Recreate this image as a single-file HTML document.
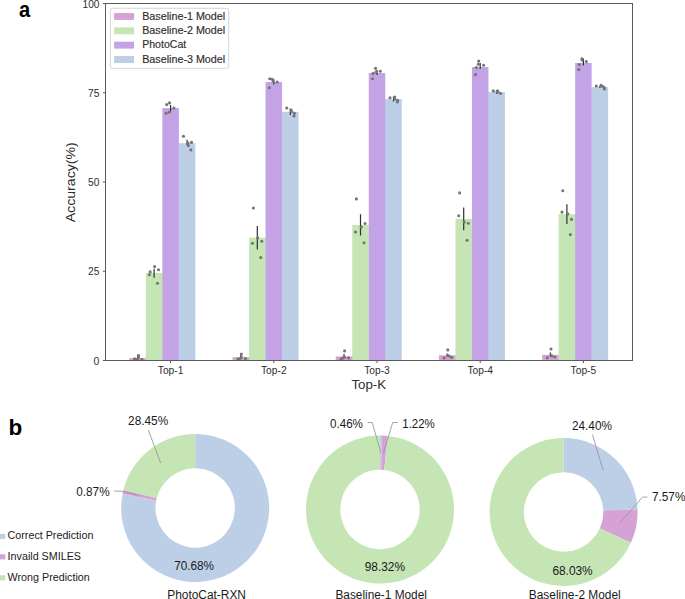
<!DOCTYPE html>
<html><head><meta charset="utf-8"><title>PhotoCat accuracy</title>
<style>
html,body{margin:0;padding:0;background:#fff;}
body{width:685px;height:599px;overflow:hidden;}
svg{display:block;font-family:"Liberation Sans", sans-serif;}
</style></head><body>
<svg width="685" height="599" viewBox="0 0 685 599">
<rect width="685" height="599" fill="#fff"/>
<rect x="129.35" y="358.00" width="16.50" height="2.50" fill="#D6A2D6"/>
<rect x="145.65" y="358.00" width="0.9" height="2.50" fill="#D6A2D6"/>
<rect x="145.85" y="273.00" width="16.50" height="87.50" fill="#C5E5B5"/>
<rect x="162.15" y="273.00" width="0.9" height="87.50" fill="#C5E5B5"/>
<rect x="162.35" y="108.10" width="16.50" height="252.40" fill="#C3A2E6"/>
<rect x="178.65" y="143.20" width="0.9" height="217.30" fill="#C3A2E6"/>
<rect x="178.85" y="143.20" width="16.50" height="217.30" fill="#BDCFE6"/>
<rect x="232.55" y="357.20" width="16.50" height="3.30" fill="#D6A2D6"/>
<rect x="248.85" y="357.20" width="0.9" height="3.30" fill="#D6A2D6"/>
<rect x="249.05" y="237.70" width="16.50" height="122.80" fill="#C5E5B5"/>
<rect x="265.35" y="237.70" width="0.9" height="122.80" fill="#C5E5B5"/>
<rect x="265.55" y="82.00" width="16.50" height="278.50" fill="#C3A2E6"/>
<rect x="281.85" y="111.80" width="0.9" height="248.70" fill="#C3A2E6"/>
<rect x="282.05" y="111.80" width="16.50" height="248.70" fill="#BDCFE6"/>
<rect x="335.75" y="356.50" width="16.50" height="4.00" fill="#D6A2D6"/>
<rect x="352.05" y="356.50" width="0.9" height="4.00" fill="#D6A2D6"/>
<rect x="352.25" y="225.00" width="16.50" height="135.50" fill="#C5E5B5"/>
<rect x="368.55" y="225.00" width="0.9" height="135.50" fill="#C5E5B5"/>
<rect x="368.75" y="73.00" width="16.50" height="287.50" fill="#C3A2E6"/>
<rect x="385.05" y="99.10" width="0.9" height="261.40" fill="#C3A2E6"/>
<rect x="385.25" y="99.10" width="16.50" height="261.40" fill="#BDCFE6"/>
<rect x="438.95" y="355.30" width="16.50" height="5.20" fill="#D6A2D6"/>
<rect x="455.25" y="355.30" width="0.9" height="5.20" fill="#D6A2D6"/>
<rect x="455.45" y="218.90" width="16.50" height="141.60" fill="#C5E5B5"/>
<rect x="471.75" y="218.90" width="0.9" height="141.60" fill="#C5E5B5"/>
<rect x="471.95" y="67.00" width="16.50" height="293.50" fill="#C3A2E6"/>
<rect x="488.25" y="92.10" width="0.9" height="268.40" fill="#C3A2E6"/>
<rect x="488.45" y="92.10" width="16.50" height="268.40" fill="#BDCFE6"/>
<rect x="542.15" y="354.90" width="16.50" height="5.60" fill="#D6A2D6"/>
<rect x="558.45" y="354.90" width="0.9" height="5.60" fill="#D6A2D6"/>
<rect x="558.65" y="214.10" width="16.50" height="146.40" fill="#C5E5B5"/>
<rect x="574.95" y="214.10" width="0.9" height="146.40" fill="#C5E5B5"/>
<rect x="575.15" y="63.00" width="16.50" height="297.50" fill="#C3A2E6"/>
<rect x="591.45" y="87.10" width="0.9" height="273.40" fill="#C3A2E6"/>
<rect x="591.65" y="87.10" width="16.50" height="273.40" fill="#BDCFE6"/>
<line x1="137.60" y1="354.7" x2="137.60" y2="360" stroke="#303030" stroke-width="1.2"/>
<line x1="154.10" y1="268.8" x2="154.10" y2="277.8" stroke="#303030" stroke-width="1.2"/>
<line x1="170.60" y1="105" x2="170.60" y2="111.6" stroke="#303030" stroke-width="1.2"/>
<line x1="187.10" y1="139.7" x2="187.10" y2="145" stroke="#303030" stroke-width="1.2"/>
<circle cx="134.7" cy="358.9" r="1.55" fill="#747474"/>
<circle cx="138.5" cy="355.5" r="1.55" fill="#747474"/>
<circle cx="138.5" cy="357.5" r="1.55" fill="#747474"/>
<circle cx="142" cy="359.6" r="1.55" fill="#747474"/>
<circle cx="137" cy="359.5" r="1.55" fill="#747474"/>
<circle cx="154.6" cy="266.6" r="1.55" fill="#747474"/>
<circle cx="158.5" cy="269.7" r="1.55" fill="#747474"/>
<circle cx="150.2" cy="271.9" r="1.55" fill="#747474"/>
<circle cx="149.3" cy="274.8" r="1.55" fill="#747474"/>
<circle cx="157.5" cy="283.3" r="1.55" fill="#747474"/>
<circle cx="166.7" cy="104.6" r="1.55" fill="#747474"/>
<circle cx="169.5" cy="102.9" r="1.55" fill="#747474"/>
<circle cx="173.9" cy="108.1" r="1.55" fill="#747474"/>
<circle cx="166" cy="113.2" r="1.55" fill="#747474"/>
<circle cx="169" cy="112.2" r="1.55" fill="#747474"/>
<circle cx="183.5" cy="136.2" r="1.55" fill="#747474"/>
<circle cx="191.5" cy="142.4" r="1.55" fill="#747474"/>
<circle cx="188.3" cy="145.6" r="1.55" fill="#747474"/>
<circle cx="190.9" cy="149.9" r="1.55" fill="#747474"/>
<circle cx="188" cy="143" r="1.55" fill="#747474"/>
<line x1="240.80" y1="354.5" x2="240.80" y2="358" stroke="#303030" stroke-width="1.2"/>
<line x1="257.30" y1="226" x2="257.30" y2="249.4" stroke="#303030" stroke-width="1.2"/>
<line x1="273.80" y1="79" x2="273.80" y2="84.5" stroke="#303030" stroke-width="1.2"/>
<line x1="290.30" y1="108.5" x2="290.30" y2="115" stroke="#303030" stroke-width="1.2"/>
<circle cx="241.4" cy="354.1" r="1.55" fill="#747474"/>
<circle cx="241.4" cy="357.3" r="1.55" fill="#747474"/>
<circle cx="237.9" cy="359" r="1.55" fill="#747474"/>
<circle cx="245.4" cy="358.6" r="1.55" fill="#747474"/>
<circle cx="240" cy="358.5" r="1.55" fill="#747474"/>
<circle cx="253.4" cy="208" r="1.55" fill="#747474"/>
<circle cx="257.7" cy="237.8" r="1.55" fill="#747474"/>
<circle cx="252.5" cy="243.3" r="1.55" fill="#747474"/>
<circle cx="261.8" cy="241.2" r="1.55" fill="#747474"/>
<circle cx="260.8" cy="257.5" r="1.55" fill="#747474"/>
<circle cx="269.8" cy="78.7" r="1.55" fill="#747474"/>
<circle cx="272.2" cy="79.3" r="1.55" fill="#747474"/>
<circle cx="273.1" cy="81" r="1.55" fill="#747474"/>
<circle cx="277.2" cy="82" r="1.55" fill="#747474"/>
<circle cx="269.2" cy="87.7" r="1.55" fill="#747474"/>
<circle cx="286.8" cy="108" r="1.55" fill="#747474"/>
<circle cx="291.1" cy="110.1" r="1.55" fill="#747474"/>
<circle cx="291.5" cy="111.5" r="1.55" fill="#747474"/>
<circle cx="294.4" cy="113.2" r="1.55" fill="#747474"/>
<circle cx="294" cy="115.9" r="1.55" fill="#747474"/>
<line x1="344.00" y1="354" x2="344.00" y2="358" stroke="#303030" stroke-width="1.2"/>
<line x1="360.50" y1="214.2" x2="360.50" y2="235.6" stroke="#303030" stroke-width="1.2"/>
<line x1="377.00" y1="70" x2="377.00" y2="75" stroke="#303030" stroke-width="1.2"/>
<line x1="393.50" y1="96.5" x2="393.50" y2="101.5" stroke="#303030" stroke-width="1.2"/>
<circle cx="344.6" cy="350.9" r="1.55" fill="#747474"/>
<circle cx="344.6" cy="357" r="1.55" fill="#747474"/>
<circle cx="348.5" cy="357.9" r="1.55" fill="#747474"/>
<circle cx="341" cy="359" r="1.55" fill="#747474"/>
<circle cx="343" cy="358" r="1.55" fill="#747474"/>
<circle cx="356.4" cy="198.9" r="1.55" fill="#747474"/>
<circle cx="365.1" cy="223.5" r="1.55" fill="#747474"/>
<circle cx="361.3" cy="227.1" r="1.55" fill="#747474"/>
<circle cx="355.5" cy="232" r="1.55" fill="#747474"/>
<circle cx="364" cy="242.8" r="1.55" fill="#747474"/>
<circle cx="375.6" cy="68.4" r="1.55" fill="#747474"/>
<circle cx="373.1" cy="73.4" r="1.55" fill="#747474"/>
<circle cx="376" cy="72" r="1.55" fill="#747474"/>
<circle cx="380.3" cy="71.3" r="1.55" fill="#747474"/>
<circle cx="372.5" cy="78.7" r="1.55" fill="#747474"/>
<circle cx="390" cy="97.7" r="1.55" fill="#747474"/>
<circle cx="394.7" cy="97.1" r="1.55" fill="#747474"/>
<circle cx="394.7" cy="98.9" r="1.55" fill="#747474"/>
<circle cx="397.6" cy="100.3" r="1.55" fill="#747474"/>
<circle cx="397.4" cy="102" r="1.55" fill="#747474"/>
<line x1="447.20" y1="353.5" x2="447.20" y2="356.5" stroke="#303030" stroke-width="1.2"/>
<line x1="463.70" y1="207.5" x2="463.70" y2="230.3" stroke="#303030" stroke-width="1.2"/>
<line x1="480.20" y1="63" x2="480.20" y2="69" stroke="#303030" stroke-width="1.2"/>
<line x1="496.70" y1="90" x2="496.70" y2="94" stroke="#303030" stroke-width="1.2"/>
<circle cx="447.8" cy="349.9" r="1.55" fill="#747474"/>
<circle cx="447.8" cy="355.5" r="1.55" fill="#747474"/>
<circle cx="444.1" cy="358" r="1.55" fill="#747474"/>
<circle cx="451.6" cy="357.4" r="1.55" fill="#747474"/>
<circle cx="449" cy="356" r="1.55" fill="#747474"/>
<circle cx="459.6" cy="192.9" r="1.55" fill="#747474"/>
<circle cx="458.7" cy="215.7" r="1.55" fill="#747474"/>
<circle cx="464.2" cy="222.1" r="1.55" fill="#747474"/>
<circle cx="468.3" cy="223.3" r="1.55" fill="#747474"/>
<circle cx="467.1" cy="240.2" r="1.55" fill="#747474"/>
<circle cx="478.7" cy="61.1" r="1.55" fill="#747474"/>
<circle cx="478.3" cy="64.3" r="1.55" fill="#747474"/>
<circle cx="476.3" cy="67.5" r="1.55" fill="#747474"/>
<circle cx="483.6" cy="65.2" r="1.55" fill="#747474"/>
<circle cx="475.5" cy="74.6" r="1.55" fill="#747474"/>
<circle cx="493.3" cy="90.9" r="1.55" fill="#747474"/>
<circle cx="497.4" cy="90.9" r="1.55" fill="#747474"/>
<circle cx="498" cy="91.9" r="1.55" fill="#747474"/>
<circle cx="500.6" cy="93.5" r="1.55" fill="#747474"/>
<circle cx="497" cy="92" r="1.55" fill="#747474"/>
<line x1="550.40" y1="352.5" x2="550.40" y2="356.5" stroke="#303030" stroke-width="1.2"/>
<line x1="566.90" y1="204.2" x2="566.90" y2="224" stroke="#303030" stroke-width="1.2"/>
<line x1="583.40" y1="58.5" x2="583.40" y2="65.5" stroke="#303030" stroke-width="1.2"/>
<line x1="599.90" y1="86" x2="599.90" y2="88" stroke="#303030" stroke-width="1.2"/>
<circle cx="551" cy="349" r="1.55" fill="#747474"/>
<circle cx="551" cy="355.5" r="1.55" fill="#747474"/>
<circle cx="547.3" cy="357.8" r="1.55" fill="#747474"/>
<circle cx="554.8" cy="357" r="1.55" fill="#747474"/>
<circle cx="552" cy="356" r="1.55" fill="#747474"/>
<circle cx="562.8" cy="190.8" r="1.55" fill="#747474"/>
<circle cx="562" cy="212.1" r="1.55" fill="#747474"/>
<circle cx="567.8" cy="213.9" r="1.55" fill="#747474"/>
<circle cx="571.5" cy="219.4" r="1.55" fill="#747474"/>
<circle cx="570.4" cy="234.6" r="1.55" fill="#747474"/>
<circle cx="581.9" cy="58.7" r="1.55" fill="#747474"/>
<circle cx="582.1" cy="60.1" r="1.55" fill="#747474"/>
<circle cx="586.3" cy="61.6" r="1.55" fill="#747474"/>
<circle cx="579.3" cy="64.6" r="1.55" fill="#747474"/>
<circle cx="578.7" cy="69.5" r="1.55" fill="#747474"/>
<circle cx="596.3" cy="86" r="1.55" fill="#747474"/>
<circle cx="601" cy="85.4" r="1.55" fill="#747474"/>
<circle cx="602.4" cy="86.2" r="1.55" fill="#747474"/>
<circle cx="604.1" cy="87.4" r="1.55" fill="#747474"/>
<circle cx="604.4" cy="88.9" r="1.55" fill="#747474"/>
<rect x="105.5" y="3.5" width="527.00" height="357.00" fill="none" stroke="#5a5a5a" stroke-width="1"/>
<line x1="102.90" y1="360.50" x2="105.5" y2="360.50" stroke="#5a5a5a" stroke-width="1"/>
<text x="99.4" y="364.60" font-size="10.4" text-anchor="end" fill="#2e2e2e" font-weight="normal" textLength="5.8" lengthAdjust="spacingAndGlyphs" >0</text>
<line x1="102.90" y1="271.25" x2="105.5" y2="271.25" stroke="#5a5a5a" stroke-width="1"/>
<text x="99.4" y="275.35" font-size="10.4" text-anchor="end" fill="#2e2e2e" font-weight="normal" textLength="11.3" lengthAdjust="spacingAndGlyphs" >25</text>
<line x1="102.90" y1="182.00" x2="105.5" y2="182.00" stroke="#5a5a5a" stroke-width="1"/>
<text x="99.4" y="186.10" font-size="10.4" text-anchor="end" fill="#2e2e2e" font-weight="normal" textLength="11.4" lengthAdjust="spacingAndGlyphs" >50</text>
<line x1="102.90" y1="92.75" x2="105.5" y2="92.75" stroke="#5a5a5a" stroke-width="1"/>
<text x="99.4" y="96.85" font-size="10.4" text-anchor="end" fill="#2e2e2e" font-weight="normal" textLength="11.4" lengthAdjust="spacingAndGlyphs" >75</text>
<line x1="102.90" y1="3.50" x2="105.5" y2="3.50" stroke="#5a5a5a" stroke-width="1"/>
<text x="99.4" y="7.60" font-size="10.4" text-anchor="end" fill="#2e2e2e" font-weight="normal" textLength="16.9" lengthAdjust="spacingAndGlyphs" >100</text>
<line x1="170.60" y1="360.5" x2="170.60" y2="363.1" stroke="#5a5a5a" stroke-width="1"/>
<text x="170.60" y="373.5" font-size="10.2" text-anchor="middle" fill="#2e2e2e" font-weight="normal" textLength="25.6" lengthAdjust="spacingAndGlyphs" >Top-1</text>
<line x1="273.80" y1="360.5" x2="273.80" y2="363.1" stroke="#5a5a5a" stroke-width="1"/>
<text x="273.80" y="373.5" font-size="10.2" text-anchor="middle" fill="#2e2e2e" font-weight="normal" textLength="25.6" lengthAdjust="spacingAndGlyphs" >Top-2</text>
<line x1="377.00" y1="360.5" x2="377.00" y2="363.1" stroke="#5a5a5a" stroke-width="1"/>
<text x="377.00" y="373.5" font-size="10.2" text-anchor="middle" fill="#2e2e2e" font-weight="normal" textLength="25.6" lengthAdjust="spacingAndGlyphs" >Top-3</text>
<line x1="480.20" y1="360.5" x2="480.20" y2="363.1" stroke="#5a5a5a" stroke-width="1"/>
<text x="480.20" y="373.5" font-size="10.2" text-anchor="middle" fill="#2e2e2e" font-weight="normal" textLength="25.6" lengthAdjust="spacingAndGlyphs" >Top-4</text>
<line x1="583.40" y1="360.5" x2="583.40" y2="363.1" stroke="#5a5a5a" stroke-width="1"/>
<text x="583.40" y="373.5" font-size="10.2" text-anchor="middle" fill="#2e2e2e" font-weight="normal" textLength="25.6" lengthAdjust="spacingAndGlyphs" >Top-5</text>
<text x="368.8" y="388.6" font-size="13" text-anchor="middle" fill="#2e2e2e" font-weight="normal" textLength="34.7" lengthAdjust="spacingAndGlyphs" >Top-K</text>
<text x="0" y="0" font-size="12.6" text-anchor="middle" fill="#2e2e2e" textLength="80" lengthAdjust="spacingAndGlyphs" transform="translate(75.4,182.3) rotate(-90)">Accuracy(%)</text>
<rect x="110.3" y="8.3" width="118.4" height="60" rx="2" ry="2" fill="#fff" fill-opacity="0.85" stroke="#d6d6d6" stroke-width="1"/>
<rect x="114.1" y="13.00" width="20" height="6.9" fill="#D6A2D6"/>
<text x="142.2" y="19.75" font-size="10.2" text-anchor="start" fill="#2e2e2e" font-weight="normal" textLength="83" lengthAdjust="spacingAndGlyphs" stroke="#2e2e2e" stroke-width="0.15">Baseline-1 Model</text>
<rect x="114.1" y="27.35" width="20" height="6.9" fill="#C5E5B5"/>
<text x="142.2" y="34.10" font-size="10.2" text-anchor="start" fill="#2e2e2e" font-weight="normal" textLength="83" lengthAdjust="spacingAndGlyphs" stroke="#2e2e2e" stroke-width="0.15">Baseline-2 Model</text>
<rect x="114.1" y="41.70" width="20" height="6.9" fill="#C3A2E6"/>
<text x="142.2" y="48.45" font-size="10.2" text-anchor="start" fill="#2e2e2e" font-weight="normal" textLength="44.0" lengthAdjust="spacingAndGlyphs" stroke="#2e2e2e" stroke-width="0.15">PhotoCat</text>
<rect x="114.1" y="56.05" width="20" height="6.9" fill="#BDCFE6"/>
<text x="142.2" y="62.80" font-size="10.2" text-anchor="start" fill="#2e2e2e" font-weight="normal" textLength="83" lengthAdjust="spacingAndGlyphs" stroke="#2e2e2e" stroke-width="0.15">Baseline-3 Model</text>
<text x="18.9" y="17.2" font-size="22" text-anchor="start" fill="#000" font-weight="bold" textLength="11.2" lengthAdjust="spacingAndGlyphs" >a</text>
<text x="8.4" y="434.9" font-size="22.5" text-anchor="start" fill="#000" font-weight="bold" >b</text>
<path d="M195.200,434.000 A74.0,74.0 0 0 0 123.429,489.972 L156.696,498.328 A39.7,39.7 0 0 1 195.200,468.300 Z" fill="#C5E5B5"/>
<path d="M123.429,489.972 A74.0,74.0 0 0 0 122.560,493.880 L156.229,500.425 A39.7,39.7 0 0 1 156.696,498.328 Z" fill="#D6A2D6"/>
<path d="M122.560,493.880 A74.0,74.0 0 1 0 195.200,434.000 L195.200,468.300 A39.7,39.7 0 1 1 156.229,500.425 Z" fill="#BDCFE6"/>
<path d="M382.144,435.531 A74.0,74.0 0 0 0 380.000,435.500 L380.000,469.800 A39.7,39.7 0 0 1 381.150,469.817 Z" fill="#BDCFE6"/>
<path d="M387.799,435.912 A74.0,74.0 0 0 0 382.144,435.531 L381.150,469.817 A39.7,39.7 0 0 1 384.184,470.021 Z" fill="#D6A2D6"/>
<path d="M380.000,435.500 A74.0,74.0 0 1 0 387.799,435.912 L384.184,470.021 A39.7,39.7 0 1 1 380.000,469.800 Z" fill="#C5E5B5"/>
<path d="M637.555,509.417 A74.0,74.0 0 0 0 563.600,438.000 L563.600,472.300 A39.7,39.7 0 0 1 603.276,510.614 Z" fill="#BDCFE6"/>
<path d="M630.883,542.805 A74.0,74.0 0 0 0 637.555,509.417 L603.276,510.614 A39.7,39.7 0 0 1 599.697,528.526 Z" fill="#D6A2D6"/>
<path d="M563.600,438.000 A74.0,74.0 0 1 0 630.883,542.805 L599.697,528.526 A39.7,39.7 0 1 1 563.600,472.300 Z" fill="#C5E5B5"/>
<polyline points="148.4,430 160.6,463.1" fill="none" stroke="#9a9a9a" stroke-width="0.9"/>
<polyline points="114.1,491.0 122.8,491.4 139.5,495.5" fill="none" stroke="#9a9a9a" stroke-width="0.9"/>
<polyline points="367.7,422.5 372.2,422.5 380.8,452.6" fill="none" stroke="#9a9a9a" stroke-width="0.9"/>
<polyline points="397.6,422.5 392.7,422.5 383.5,452.6" fill="none" stroke="#9a9a9a" stroke-width="0.9"/>
<polyline points="592.5,434.6 603.2,470.6" fill="none" stroke="#9a9a9a" stroke-width="0.9"/>
<polyline points="647.4,497.1 642.5,497.1 619.4,523.4" fill="none" stroke="#9a9a9a" stroke-width="0.9"/>
<text x="128.10" y="425.2" font-size="12" text-anchor="start" fill="#1a1a1a" font-weight="normal" textLength="40.10" lengthAdjust="spacingAndGlyphs" >28.45%</text>
<text x="76.30" y="495.6" font-size="12" text-anchor="start" fill="#1a1a1a" font-weight="normal" textLength="33.30" lengthAdjust="spacingAndGlyphs" >0.87%</text>
<text x="174.20" y="569.8" font-size="12" text-anchor="start" fill="#1a1a1a" font-weight="normal" textLength="39.80" lengthAdjust="spacingAndGlyphs" >70.68%</text>
<text x="167.20" y="599.0" font-size="12" text-anchor="start" fill="#1a1a1a" font-weight="normal" textLength="78.80" lengthAdjust="spacingAndGlyphs" >PhotoCat-RXN</text>
<text x="330.00" y="427.7" font-size="12" text-anchor="start" fill="#1a1a1a" font-weight="normal" textLength="32.90" lengthAdjust="spacingAndGlyphs" >0.46%</text>
<text x="402.30" y="427.7" font-size="12" text-anchor="start" fill="#1a1a1a" font-weight="normal" textLength="32.50" lengthAdjust="spacingAndGlyphs" >1.22%</text>
<text x="364.70" y="571.3" font-size="12" text-anchor="start" fill="#1a1a1a" font-weight="normal" textLength="40.30" lengthAdjust="spacingAndGlyphs" >98.32%</text>
<text x="335.40" y="599.0" font-size="12" text-anchor="start" fill="#1a1a1a" font-weight="normal" textLength="91.50" lengthAdjust="spacingAndGlyphs" >Baseline-1 Model</text>
<text x="571.90" y="430.0" font-size="12" text-anchor="start" fill="#1a1a1a" font-weight="normal" textLength="40.10" lengthAdjust="spacingAndGlyphs" >24.40%</text>
<text x="651.90" y="501.3" font-size="12" text-anchor="start" fill="#1a1a1a" font-weight="normal" textLength="33.60" lengthAdjust="spacingAndGlyphs" >7.57%</text>
<text x="552.40" y="574.8" font-size="12" text-anchor="start" fill="#1a1a1a" font-weight="normal" textLength="40.30" lengthAdjust="spacingAndGlyphs" >68.03%</text>
<text x="528.80" y="599.0" font-size="12" text-anchor="start" fill="#1a1a1a" font-weight="normal" textLength="91.90" lengthAdjust="spacingAndGlyphs" >Baseline-2 Model</text>
<rect x="0" y="533.9" width="5.3" height="5.1" fill="#BDCFE6"/>
<text x="7.6" y="539.30" font-size="10" text-anchor="start" fill="#1a1a1a" font-weight="normal" textLength="85.80" lengthAdjust="spacingAndGlyphs" >Correct Prediction</text>
<rect x="0" y="554.3" width="5.3" height="5.1" fill="#D6A2D6"/>
<text x="7.6" y="559.70" font-size="10" text-anchor="start" fill="#1a1a1a" font-weight="normal" textLength="73.40" lengthAdjust="spacingAndGlyphs" >Invaild SMILES</text>
<rect x="0" y="575.2" width="5.3" height="5.1" fill="#C5E5B5"/>
<text x="7.6" y="580.60" font-size="10" text-anchor="start" fill="#1a1a1a" font-weight="normal" textLength="82.20" lengthAdjust="spacingAndGlyphs" >Wrong Prediction</text>
</svg>
</body></html>
